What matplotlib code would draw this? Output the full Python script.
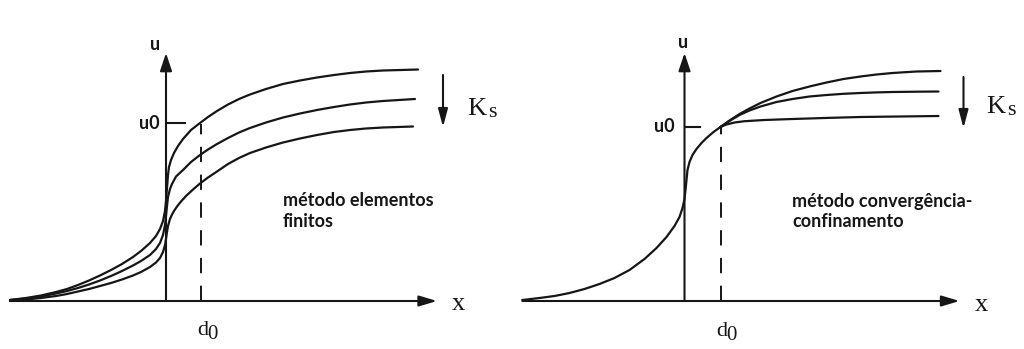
import matplotlib
matplotlib.use("Agg")

import matplotlib.pyplot as plt

plt.rcParams["lines.scale_dashes"] = False

INK = "#161616"
LABEL_FONT = "Lato"
SERIF_FONT = "Liberation Serif"
DPI = 100

# --- finite element method: one displacement curve per soil stiffness K_s ---
fe_x_soft = [-156, -140, -125, -110, -99, -88, -77, -66, -55, -44, -33, -25, -16, -10,
             -6, -3, -1, 0, 1, 2, 3, 5, 8, 12, 17, 25, 34, 42, 51, 62, 73, 84, 100,
             117, 134, 151, 168, 184, 200, 217, 235, 252]
fe_u_soft = [1, 3, 5.5, 9, 12, 16, 20.5, 25.5, 31, 37, 44, 50, 58, 65,
             72, 80, 90, 100, 113, 126, 134, 141, 148, 155, 162, 171, 178, 184, 190, 196.5, 202, 206.5, 212,
             217, 220.5, 223.5, 226, 228, 229.5, 230.5, 231, 231.5]

fe_x_mid = [-156, -140, -125, -110, -99, -88, -77, -66, -55, -44, -33, -25, -16, -10,
            -6, -3, -1, 0, 1, 2, 4, 6, 10, 17, 25, 34, 42, 51, 62, 73, 84, 100,
            117, 134, 151, 168, 184, 200, 217, 233, 249]
fe_u_mid = [1, 2.5, 4.5, 7.5, 10, 13, 16.5, 20.5, 25, 30, 35.5, 40, 46, 52,
            58, 66, 76, 85, 95, 104, 112, 117, 124.5, 131, 139, 146, 151.5, 157, 163, 168.5, 173, 178.5,
            183.5, 187.5, 191, 194, 196.5, 198.5, 200, 201, 202]

fe_x_stiff = [-156, -140, -125, -110, -99, -88, -77, -66, -55, -44, -33, -25, -16, -10,
              -6, -3, -1, 0, 1, 2, 4, 6, 8, 11, 15, 20, 27, 34, 42, 51, 62, 73, 84, 100,
              117, 134, 151, 168, 184, 200, 217, 232, 247]
fe_u_stiff = [0, 1.5, 3, 5, 7, 9.5, 12, 15, 18, 21.5, 25.5, 29, 34, 38.5,
              43, 49, 56, 62, 69, 75, 82, 86.5, 90, 94.5, 99.5, 105, 111.5, 117.5, 123.5, 129.5, 137, 143,
              148, 153.5, 158.5, 162.5, 166, 169, 171, 172.5, 173.5, 174, 174.5]

fe_u0 = 178
fe_d0 = 35

# --- convergence-confinement method: common curve up to d0, then three branches ---
cc_x_common = [-162, -145, -130, -115, -100, -85, -70, -55, -40, -28, -18, -10, -5, -2,
               0, 1, 2, 3, 5, 8, 12, 17, 22, 29, 36]
cc_u_common = [1, 3, 5, 8, 12, 17, 23, 31, 42, 53, 64, 75, 84, 93,
               102, 111, 121, 131, 139, 146, 152, 158, 163, 169, 174]

cc_x_soft = [36, 45, 55, 65, 76, 92, 108, 125, 142, 159, 176, 192, 208, 232, 256]
cc_u_soft = [174, 180.5, 187, 192.5, 198, 204.5, 210, 214.5, 218.5, 222, 224.5, 226.5, 228, 229.5, 230]

cc_x_mid = [36, 45, 55, 65, 76, 92, 108, 125, 142, 159, 176, 192, 208, 232, 254]
cc_u_mid = [174, 180, 186, 190.5, 194.5, 199, 202, 204.5, 206, 207.2, 208, 208.6, 209, 209.3, 209.5]

cc_x_stiff = [36, 42, 50, 60, 80, 108, 140, 176, 215, 254]
cc_u_stiff = [174, 176.5, 178.5, 179.8, 181, 182, 183, 184, 184.5, 185]

cc_u0 = 174
cc_d0 = 36


def arrow(ax, start, tip, head_width=0.2):
    ax.annotate("", xy=tip, xytext=start,
                arrowprops=dict(arrowstyle=f"-|>,head_length=0.6,head_width={head_width}",
                                color=INK, lw=1.5, shrinkA=0, shrinkB=0,
                                mutation_scale=18))


def draw_panel(ax, x_start, x_tip, u_tip, u0, d0, lab):
    """Axes, u0/d0 guides, K_s arrow and the symbol labels of one sketch."""
    ax.axis("off")

    # axes with arrow heads
    arrow(ax, (x_start, 0), (x_tip, 0), head_width=0.18)
    arrow(ax, (0, 0), (0, u_tip), head_width=0.2)

    # u0 tick and dashed d0 guide
    ax.plot([0, lab["tick_len"]], [u0, u0], color=INK, lw=1.5)
    ax.plot([d0, d0], [0, u0 - 1], color=INK, lw=1.4, linestyle=(0, (11, 9)))

    # stiffness arrow
    arrow(ax, (lab["ks_x"], lab["ks_top"]), (lab["ks_x"], lab["ks_bot"]), head_width=0.16)

    bold = dict(family=LABEL_FONT, fontweight="bold", color=INK)
    serif = dict(family=SERIF_FONT, color=INK)

    ax.text(lab["u"][0], lab["u"][1], "u", ha="center", va="baseline", fontsize=13, **bold)
    ax.text(lab["u0"][0], lab["u0"][1], "u0", ha="right", va="baseline", fontsize=13, **bold)
    ax.text(lab["x"][0], lab["x"][1], "x", ha="left", va="baseline", fontsize=19, **serif)
    ax.text(lab["d"][0], lab["d"][1], "d", ha="left", va="baseline", fontsize=16, **serif)
    ax.text(lab["d"][0] + 10, lab["d"][1] - 4, "0", ha="left", va="baseline", fontsize=15, **serif)
    ax.text(lab["K"][0], lab["K"][1], "K", ha="left", va="baseline", fontsize=19, **serif)
    ax.text(lab["K"][0] + 21, lab["K"][1] - 2, "s", ha="left", va="baseline", fontsize=16, **serif)

    ax.text(lab["note"][0], lab["note"][1], lab["note_text"], ha="left", va="baseline",
            fontsize=13, linespacing=1.25, **bold)


fig = plt.figure(figsize=(10.24, 3.49), dpi=DPI, facecolor="white")

# left sketch: finite element method
ax1 = fig.add_axes([0.0, 0.0, 0.5, 1.0])
ax1.set_xlim(-166, 346)
ax1.set_ylim(-48, 301)
for xs, us in [(fe_x_soft, fe_u_soft), (fe_x_mid, fe_u_mid), (fe_x_stiff, fe_u_stiff)]:
    ax1.plot(xs, us, color=INK, lw=1.6, solid_capstyle="round")
draw_panel(ax1, -156, 271, 248, fe_u0, fe_d0, dict(
    tick_len=19, ks_x=277, ks_top=226, ks_bot=174,
    u=(-11, 251), u0=(-6, 172), x=(286, -9), d=(31, -34), K=(301, 186),
    note=(117, 74), note_text="método elementos\nfinitos"))

# right sketch: convergence-confinement method
ax2 = fig.add_axes([0.5, 0.0, 0.5, 1.0])
ax2.set_xlim(-172.5, 339.5)
ax2.set_ylim(-48, 301)
ax2.plot(cc_x_common, cc_u_common, color=INK, lw=1.6)
for xs, us in [(cc_x_soft, cc_u_soft), (cc_x_mid, cc_u_mid), (cc_x_stiff, cc_u_stiff)]:
    ax2.plot(xs, us, color=INK, lw=1.6, solid_capstyle="round")
draw_panel(ax2, -162, 275, 248, cc_u0, cc_d0, dict(
    tick_len=15, ks_x=279, ks_top=224, ks_bot=173,
    u=(-1.5, 253), u0=(-9.5, 169.5), x=(290, -10), d=(32, -35), K=(302, 188),
    note=(108, 74), note_text="método convergência-\nconfinamento"))

fig.savefig("out.png", dpi=DPI, facecolor="white")
